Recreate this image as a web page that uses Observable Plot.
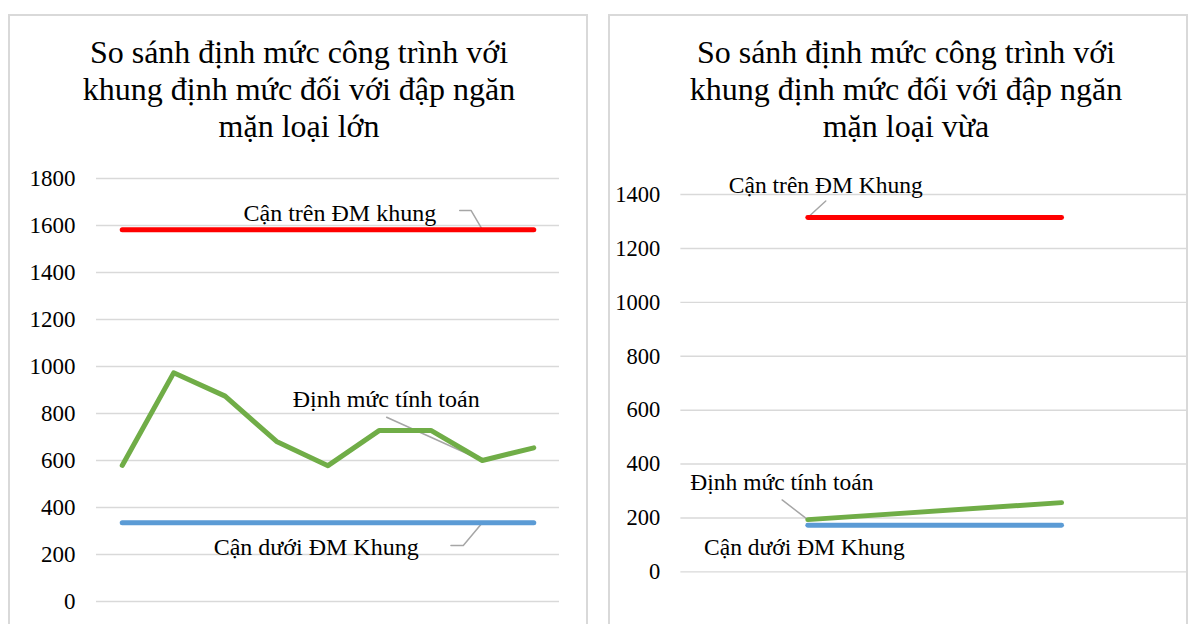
<!DOCTYPE html>
<html>
<head>
<meta charset="utf-8">
<script src="https://cdn.jsdelivr.net/npm/d3@7"></script>
<script src="https://cdn.jsdelivr.net/npm/@observablehq/plot@0.6"></script>
<style>
  html, body { margin: 0; padding: 0; background: #fff; }
  body { width: 1188px; height: 624px; overflow: hidden; position: relative;
         font-family: "Liberation Serif", "Times New Roman", Times, serif; }
  .frame { position: absolute; top: 14px; height: 700px; width: 580px;
           border: 2px solid #d9d9d9; box-sizing: border-box; }
  .title { position: absolute; width: 580px; text-align: center;
           font-size: 32px; line-height: 37px; color: #000; top: 34px; }
  .chart { position: absolute; top: 150px; }
</style>
</head>
<body>
<div class="frame" style="left:8px"></div>
<div class="frame" style="left:608px"></div>
<div class="title" style="left:9px">So sánh định mức công trình với<br>khung định mức đối với đập ngăn<br>mặn loại lớn</div>
<div class="title" style="left:616px">So sánh định mức công trình với<br>khung định mức đối với đập ngăn<br>mặn loại vừa</div>
<div class="chart" id="c1" style="left:0px"></div>
<div class="chart" id="c2" style="left:600px"></div>
<script>
// ---- data: large dams (left) ----
const leftCategories = ["CT1", "CT2", "CT3", "CT4", "CT5", "CT6", "CT7", "CT8", "CT9"];
const leftTinhToan = [579, 973, 874, 681, 578, 728, 728, 600, 654];
const leftCanTren = [1582, 1582, 1582, 1582, 1582, 1582, 1582, 1582, 1582];
const leftCanDuoi = [335, 335, 335, 335, 335, 335, 335, 335, 335];
const leftTicks = [0, 200, 400, 600, 800, 1000, 1200, 1400, 1600, 1800];

// ---- data: medium dams (right) ----
const rightCategories = ["CT1", "CT2"];
const rightTinhToan = [194, 257];
const rightCanTren = [1315, 1315];
const rightCanDuoi = [173, 173];
const rightTicks = [0, 200, 400, 600, 800, 1000, 1200, 1400];

const seriesNames = { tren: "Cận trên ĐM khung", tinh: "Định mức tính toán", duoi: "Cận dưới ĐM Khung" };
const rightNames = { tren: "Cận trên ĐM Khung", tinh: "Định mức tính toán", duoi: "Cận dưới ĐM Khung" };

const colors = { tren: "#ff0000", tinh: "#70ad47", duoi: "#5b9bd5" };

// annotation placement (data coordinates: category index, value)
const leftAnno = [
  { key: "tren", x: 4.23, y: 1652, leader: [[6.56, 1664], [6.78, 1664], [7, 1582]] },
  { key: "tinh", x: 5.13, y: 862, leader: [[5.14, 784], [7, 600]] },
  { key: "duoi", x: 3.77, y: 231, leader: [[6.39, 238], [6.63, 238], [7, 335]] }
];
const rightAnno = [
  { key: "tren", x: 0.071, y: 1435, leader: [[0.071, 1376], [0, 1315]] },
  { key: "tinh", x: -0.102, y: 333, leader: [[-0.101, 267], [0, 194]] },
  { key: "duoi", x: -0.013, y: 90, leader: null }
];

function build(cats, tinh, tren, duoi, ticks, names, anno, opts) {
  const rows = key => cats.map((c, i) => ({ i, v: key === "tren" ? tren[i] : key === "tinh" ? tinh[i] : duoi[i] }));
  const leaders = anno.filter(a => a.leader).map(a => a.leader.map(([x, y]) => ({ x, y, k: a.key })));
  const font = "'Liberation Serif', 'Times New Roman', Times, serif";
  return Plot.plot({
    width: opts.width,
    height: opts.height,
    marginLeft: opts.marginLeft,
    marginRight: opts.marginRight,
    marginTop: opts.marginTop,
    marginBottom: opts.marginBottom,
    style: { fontFamily: font, fontSize: "23px", color: "#000", background: "transparent", overflow: "visible" },
    x: { type: "linear", domain: [-0.5, cats.length - 0.5], axis: null },
    y: { domain: [0, ticks[ticks.length - 1]], axis: null },
    marks: [
      Plot.gridY(ticks, { stroke: "#d9d9d9", strokeOpacity: 1, strokeWidth: 1.5 }),
      Plot.axisY(ticks, { tickSize: 0, tickPadding: opts.tickPadding, fontSize: 23, fill: "#000", label: null, fontFamily: font, tickFormat: d => String(d) }),
      ...leaders.map(l => Plot.line(l, { x: "x", y: "y", stroke: "#a6a6a6", strokeWidth: 1.5 })),
      Plot.line(rows("tren"), { x: "i", y: "v", stroke: colors.tren, strokeWidth: 5, strokeLinecap: "round", strokeLinejoin: "round" }),
      Plot.line(rows("duoi"), { x: "i", y: "v", stroke: colors.duoi, strokeWidth: 5, strokeLinecap: "round", strokeLinejoin: "round" }),
      Plot.line(rows("tinh"), { x: "i", y: "v", stroke: colors.tinh, strokeWidth: 5, strokeLinecap: "round", strokeLinejoin: "round" }),
      Plot.text(anno, { x: "x", y: "y", text: d => names[d.key], fontSize: 24, fill: "#000", textAnchor: "middle", lineAnchor: "middle", fontFamily: font })
    ]
  });
}

document.getElementById("c1").append(
  build(leftCategories, leftTinhToan, leftCanTren, leftCanDuoi, leftTicks, seriesNames, leftAnno,
    { width: 589, height: 474, marginLeft: 96, marginRight: 30, marginTop: 28, marginBottom: 23, tickPadding: 21 })
);
document.getElementById("c2").append(
  build(rightCategories, rightTinhToan, rightCanTren, rightCanDuoi, rightTicks, rightNames, rightAnno,
    { width: 600, height: 453, marginLeft: 82, marginRight: 0, marginTop: 45, marginBottom: 23, tickPadding: 21 })
);
</script>
</body>
</html>
